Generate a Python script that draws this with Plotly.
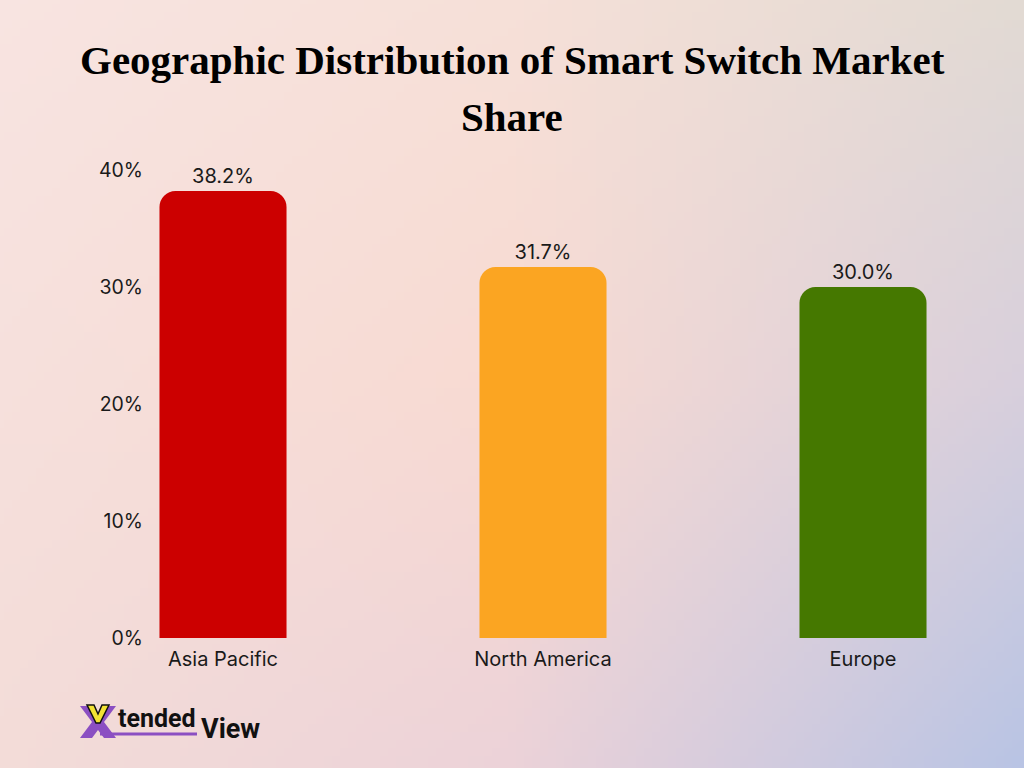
import base64, struct, zlib
import plotly.graph_objects as go

# ---------------- data ----------------
regions = ["Asia Pacific", "North America", "Europe"]
shares = [38.2, 31.7, 30.0]
bar_colors = ["#CC0000", "#FBA522", "#457800"]
y_ticks = [0, 10, 20, 30, 40]
y_tick_labels = ["0%", "10%", "20%", "30%", "40%"]
title_lines = ["Geographic Distribution of Smart Switch Market", "Share"]

# ---------------- geometry ----------------
W, H = 1024, 768
L, R, T, B = 152, 84, 160, 130
PW, PH = W - L - R, H - T - B


def px(x):
    return (x - L) / PW


def py(y):
    return 1 - (y - T) / PH


# ---------------- gradient background (png built in memory) ----------------
ctrl = [
    [(248, 228, 225), (246, 224, 216), (226, 218, 211)],
    [(246, 224, 220), (248, 218, 210), (216, 207, 220)],
    [(243, 220, 216), (236, 210, 216), (185, 196, 228)],
]


def lerp(a, b, t):
    return tuple(a[i] + (b[i] - a[i]) * t for i in range(3))


def sample(u, v):
    gx = u * 2
    gy = v * 2
    ix = min(int(gx), 1)
    iy = min(int(gy), 1)
    tx, ty = gx - ix, gy - iy
    top = lerp(ctrl[iy][ix], ctrl[iy][ix + 1], tx)
    bot = lerp(ctrl[iy + 1][ix], ctrl[iy + 1][ix + 1], tx)
    return tuple(int(round(c)) for c in lerp(top, bot, ty))


GW, GH = 128, 96
raw = b""
for j in range(GH):
    raw += b"\x00"
    for i in range(GW):
        raw += bytes(sample(i / (GW - 1), j / (GH - 1)))


def chunk(tag, data):
    c = struct.pack(">I", len(data)) + tag + data
    return c + struct.pack(">I", zlib.crc32(tag + data) & 0xFFFFFFFF)


png = b"\x89PNG\r\n\x1a\n" + chunk(b"IHDR", struct.pack(">IIBBBBB", GW, GH, 8, 2, 0, 0, 0)) \
    + chunk(b"IDAT", zlib.compress(raw, 9)) + chunk(b"IEND", b"")
bg_uri = "data:image/png;base64," + base64.b64encode(png).decode()

# ---------------- figure ----------------
txt_font = "Inter, Roboto, sans-serif"
fig = go.Figure()
fig.add_trace(go.Bar(
    x=list(range(len(regions))),
    y=shares,
    marker=dict(color=bar_colors, line=dict(width=0)),
    width=0.397,
    text=[f"{v:.1f}%" for v in shares],
    textposition="outside",
    textfont=dict(family=txt_font, size=20, color="#1a1a1a"),
    cliponaxis=False,
    hoverinfo="skip",
))

x0 = (L - 223) / 320
x1 = (W - R - 223) / 320

fig.update_layout(
    width=W, height=H,
    margin=dict(l=L, r=R, t=T, b=B, pad=0),
    paper_bgcolor="#F6DED8",
    plot_bgcolor="rgba(0,0,0,0)",
    barcornerradius=16,
    showlegend=False,
    xaxis=dict(
        range=[x0, x1],
        tickmode="array",
        tickvals=list(range(len(regions))),
        ticktext=regions,
        showgrid=False, zeroline=False, showline=False,
        ticks="", ticklen=0, ticklabelstandoff=7,
        tickfont=dict(family=txt_font, size=20, color="#1a1a1a"),
    ),
    yaxis=dict(
        range=[0, (638 - T) / 11.7],
        tickmode="array",
        tickvals=y_ticks,
        ticktext=y_tick_labels,
        showgrid=False, zeroline=False, showline=False,
        ticks="", ticklen=0, ticklabelstandoff=8,
        tickfont=dict(family=txt_font, size=19.5, color="#1a1a1a"),
    ),
    images=[dict(
        source=bg_uri,
        xref="paper", yref="paper",
        x=px(0), y=py(0),
        sizex=W / PW, sizey=H / PH,
        xanchor="left", yanchor="top",
        sizing="stretch", layer="below",
    )],
)

# ---------------- title (two lines) ----------------
for line, yc in zip(title_lines, [60, 117]):
    fig.add_annotation(text=f"<b>{line}</b>", xref="paper", yref="paper",
                       x=px(512), y=py(yc), xanchor="center", yanchor="middle",
                       showarrow=False,
                       font=dict(family="Liberation Serif, serif", size=41, color="#000000"))

# ---------------- logo ----------------
purple = "#8B4FC2"


def pp(points):
    return "M " + " L ".join(f"{px(a):.5f} {py(b):.5f}" for a, b in points) + " Z"


# X strokes
fig.add_shape(type="path", xref="paper", yref="paper",
              path=pp([(80, 706), (92, 706), (116, 738), (104, 738)]),
              fillcolor=purple, line=dict(width=0))
fig.add_shape(type="path", xref="paper", yref="paper",
              path=pp([(104, 706), (116, 706), (92, 738), (80, 738)]),
              fillcolor=purple, line=dict(width=0))
# underline
fig.add_shape(type="line", xref="paper", yref="paper",
              x0=px(100), x1=px(197), y0=py(734), y1=py(734),
              line=dict(color=purple, width=3))
# yellow V
fig.add_shape(type="path", xref="paper", yref="paper",
              path=pp([(87, 705), (94, 705), (98, 714), (102, 705), (109, 705), (100, 723), (96, 723)]),
              fillcolor="#F2E234", line=dict(color="#111111", width=1.5))
fig.add_annotation(text="<b>tended</b>", xref="paper", yref="paper",
                   x=px(116), y=py(718), xanchor="left", yanchor="middle",
                   showarrow=False, font=dict(family="Roboto, sans-serif", size=25, color="#111111"))
fig.add_annotation(text="<b>View</b>", xref="paper", yref="paper",
                   x=px(199), y=py(729), xanchor="left", yanchor="middle",
                   showarrow=False, font=dict(family="Roboto, sans-serif", size=27, color="#111111"))

fig.write_html("out.html")
